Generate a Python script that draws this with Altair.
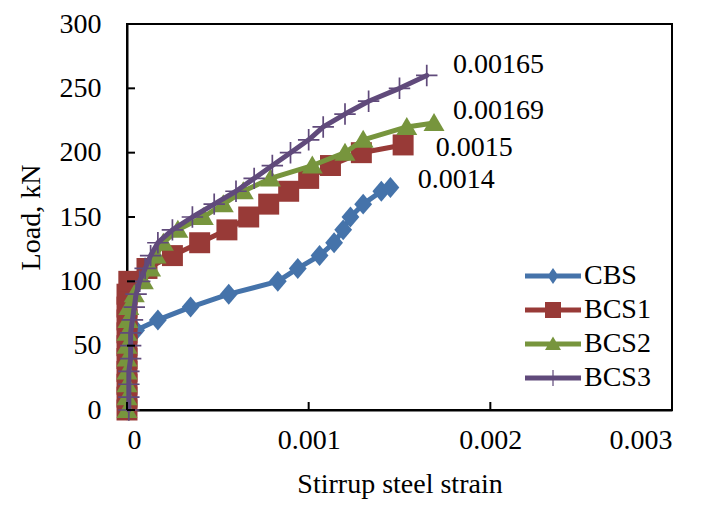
import altair as alt
import pandas as pd

# ---------------- data ----------------
series_names = ["CBS", "BCS1", "BCS2", "BCS3"]
series_colors = ["#4573AA", "#983A37", "#77953D", "#604A7B"]

cbs_x = [0, 0, 0, 0, 0, 0, 0.00005, 0.00017, 0.00035, 0.00056, 0.00083, 0.00094,
         0.00106, 0.00114, 0.00119, 0.00123, 0.0013, 0.0014, 0.00145]
cbs_y = [0, 10, 20, 30, 40, 50, 62, 70, 80, 90, 100, 110, 120, 130, 140, 150, 160, 170, 173]

bcs1_x = [0, 0, 0, 0, 0, 0, 0, 0, 0, 0, 0.00001, 0.00011, 0.00025, 0.0004, 0.00055,
          0.00067, 0.00078, 0.00089, 0.001, 0.00112, 0.00129, 0.00152]
bcs1_y = [0, 10, 20, 30, 40, 50, 60, 70, 80, 90, 100, 110, 120, 130, 140, 150, 160,
          170, 180, 190, 200, 206]

bcs2_x = [0, 0, 0, 0, 0, 0, 0, 0.000005, 0.00001, 0.00004, 0.00009, 0.00013, 0.00016,
          0.0002, 0.00028, 0.00042, 0.00053, 0.00064, 0.00079, 0.00102, 0.0012, 0.0013,
          0.00154, 0.00169]
bcs2_y = [0, 10, 20, 30, 40, 50, 60, 70, 80, 90, 100, 110, 120, 130, 140, 150, 160,
          170, 180, 190, 200, 210, 220, 223]

bcs3_x = [0.00001, 0.00001, 0.00001, 0.00001, 0.00002, 0.00002, 0.00002, 0.00003,
          0.00004, 0.00005, 0.00007, 0.0001, 0.00013, 0.00017, 0.00025, 0.00036,
          0.00048, 0.0006, 0.0007, 0.0008, 0.0009, 0.001, 0.00108, 0.0012, 0.00133,
          0.0015, 0.00165]
bcs3_y = [0, 10, 20, 30, 40, 50, 60, 70, 80, 90, 100, 110, 120, 130, 140, 150, 160,
          170, 180, 190, 200, 210, 220, 230, 240, 250, 260]

label_texts = ["0.00165", "0.00169", "0.0015", "0.0014"]
label_x = [0.001794, 0.001794, 0.0017, 0.0016]
label_y = [268, 232, 204, 179]

x_ticks = [0, 0.001, 0.002, 0.003]
y_ticks = [0, 50, 100, 150, 200, 250, 300]

# ---------------- marker shapes ----------------
marker_paths = {
    "CBS": "M0,-1L0.85,0L0,1L-0.85,0Z",
    "BCS1": "M-1,-1H1V1H-1Z",
    "BCS2": "M0,-1L1.05,0.8H-1.05Z",
    "BCS3": "M-1,-0.08H1V0.08H-1Z M-0.08,-1H0.08V1H-0.08Z",
}
marker_sizes = {"CBS": 440, "BCS1": 440, "BCS2": 400, "BCS3": 460}

bar = "M-2.8,-0.24H2.8V0.24H-2.8Z "
legend_paths = [
    bar + "M0,-0.8L0.55,0L0,0.8L-0.55,0Z",
    bar + "M-0.8,-0.8H0.8V0.8H-0.8Z",
    bar + "M0,-0.75L0.8,0.6H-0.8Z",
    bar + "M-0.06,-0.8H0.06V0.8H-0.06Z",
]

FONT = "Liberation Serif"
FS = 28

frames = []
for name, xs, ys in [("CBS", cbs_x, cbs_y), ("BCS1", bcs1_x, bcs1_y),
                     ("BCS2", bcs2_x, bcs2_y), ("BCS3", bcs3_x, bcs3_y)]:
    frames.append(pd.DataFrame({"strain": xs, "load": ys, "series": name,
                                "order": list(range(len(xs)))}))
df = pd.concat(frames, ignore_index=True)

xscale = alt.Scale(domain=[0, 0.003], nice=False, zero=False)
yscale = alt.Scale(domain=[0, 300], nice=False)
cscale = alt.Scale(domain=series_names, range=series_colors)
sscale = alt.Scale(domain=series_names, range=legend_paths)

legend = alt.Legend(
    title=None, orient="none", legendX=412, legendY=238,
    labelFont=FONT, labelFontSize=FS, labelColor="black",
    symbolSize=400, labelOffset=17, rowPadding=6, symbolOpacity=1,
    symbolStrokeWidth=0,
)

xax = alt.Axis(values=x_ticks, title="Stirrup steel strain", grid=False, ticks=False,
               labelPadding=16, titlePadding=16,
               labelExpr="datum.value == 0 ? '0' : format(datum.value, '.3f')")
yax = alt.Axis(values=y_ticks, title="Load, kN", grid=False, ticks=False,
               labelPadding=26, titlePadding=14)

layers = []
for name, col in zip(series_names, series_colors):
    base = alt.Chart(df).transform_filter(alt.datum.series == name)
    line = base.mark_line(strokeWidth=5, strokeJoin="round", strokeCap="round",
                          color=col).encode(
        x=alt.X("strain:Q", scale=xscale, axis=xax),
        y=alt.Y("load:Q", scale=yscale, axis=yax),
        order="order:Q",
    )
    pts = base.mark_point(filled=True, opacity=1, shape=marker_paths[name],
                          size=marker_sizes[name], color=col).encode(
        x="strain:Q", y="load:Q",
    )
    layers += [line, pts]

# legend-only layer: no rows survive the filter, legend built from scale domains
leg_layer = alt.Chart(df).transform_filter("datum.load < 0").mark_point(
    filled=True, opacity=1).encode(
    x="strain:Q", y="load:Q",
    color=alt.Color("series:N", scale=cscale, legend=legend),
    shape=alt.Shape("series:N", scale=sscale, legend=legend),
)

lab_df = pd.DataFrame({"x": label_x, "y": label_y, "t": label_texts})
labels = alt.Chart(lab_df).mark_text(align="left", baseline="middle", font=FONT,
                                     fontSize=FS, color="black").encode(
    x="x:Q", y="y:Q", text="t:N")

ytick_df = pd.DataFrame({"v": y_ticks})
ytick = alt.Chart(ytick_df).mark_rule(color="black", strokeWidth=2).encode(
    y="v:Q", x=alt.value(0), x2=alt.value(8))
xtick_df = pd.DataFrame({"v": x_ticks})
xtick = alt.Chart(xtick_df).mark_rule(color="black", strokeWidth=2).encode(
    x="v:Q", y=alt.value(386), y2=alt.value(378))

chart = alt.layer(*layers, leg_layer, labels, ytick, xtick).properties(
    width=545, height=386,
    background="white",
    autosize=alt.AutoSizeParams(type="none"),
    padding={"left": 119, "top": 16, "right": 45, "bottom": 89},
).configure_view(stroke="black", strokeWidth=2).configure_axis(
    labelFont=FONT, labelFontSize=FS, labelColor="black",
    titleFont=FONT, titleFontSize=FS, titleFontWeight="normal", titleColor="black",
    domainColor="black", domainWidth=2,
)

chart.save("out.html", embed_options={"renderer": "svg", "actions": False})
